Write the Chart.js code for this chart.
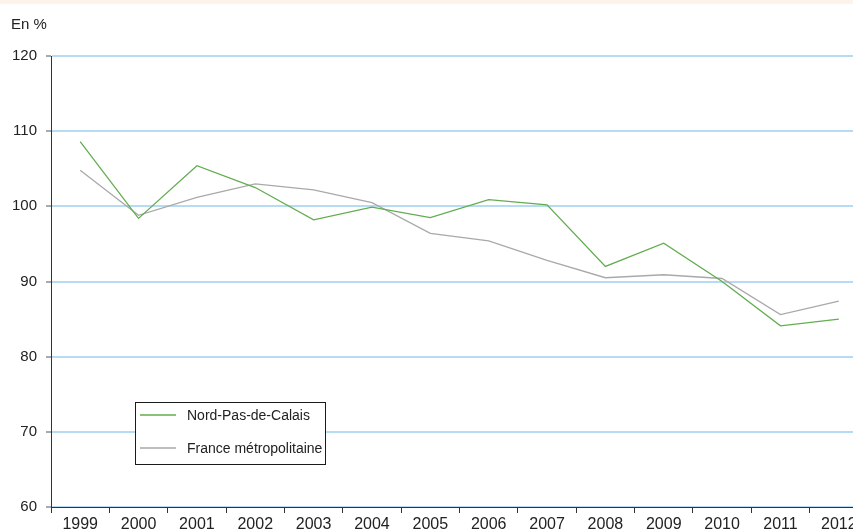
<!DOCTYPE html>
<html lang="fr">
<head>
<meta charset="utf-8">
<title>Évolution en % – Nord-Pas-de-Calais et France métropolitaine</title>
<script src="https://cdn.jsdelivr.net/npm/chart.js@4/dist/chart.umd.min.js"></script>
<style>
  html, body { margin: 0; padding: 0; background: #ffffff; overflow: hidden; width: 853px; height: 531px; }
  #band { position: absolute; left: 0; top: 0; width: 853px; height: 4px; background: #fdf3ea; }
  #wrap { position: absolute; left: 0; top: 0; width: 868px; height: 531px; }
</style>
</head>
<body>
<div id="wrap"><canvas id="chart" width="868" height="531"></canvas></div>
<div id="band"></div>
<script>
// Années
const years = ['1999','2000','2001','2002','2003','2004','2005','2006','2007','2008','2009','2010','2011','2012'];
// Nord-Pas-de-Calais (en %)
const nordPasDeCalais = [108.6, 98.4, 105.4, 102.5, 98.2, 99.9, 98.5, 100.9, 100.2, 92.0, 95.1, 90.0, 84.1, 85.0];
// France métropolitaine (en %)
const franceMetro = [104.8, 98.8, 101.2, 103.0, 102.2, 100.5, 96.4, 95.4, 92.8, 90.5, 90.9, 90.4, 85.6, 87.4];
// Graduations de l'axe vertical
const yTicks = [60, 70, 80, 90, 100, 110, 120];

const seriesLabels = ['Nord-Pas-de-Calais', 'France métropolitaine'];
const seriesColors = ['#62ad4f', '#a9a9a9'];

const FONT = '"Liberation Sans", Arial, Helvetica, sans-serif';

// Légende encadrée, placée dans la zone du graphique
const boxedLegend = {
  id: 'boxedLegend',
  afterDraw(chart) {
    const ctx = chart.ctx;
    const x0 = 135.5, y0 = 402.5, w = 190, h = 62;
    ctx.save();
    ctx.fillStyle = '#ffffff';
    ctx.fillRect(x0, y0, w, h);
    ctx.strokeStyle = '#1a1a1a';
    ctx.lineWidth = 1;
    ctx.strokeRect(x0, y0, w, h);
    ctx.font = '14px ' + FONT;
    ctx.textBaseline = 'middle';
    ctx.textAlign = 'left';
    chart.data.datasets.forEach((ds, i) => {
      const y = 415 + i * 33;
      ctx.strokeStyle = ds.borderColor;
      ctx.lineWidth = 1.3;
      ctx.beginPath();
      ctx.moveTo(140, y);
      ctx.lineTo(176, y);
      ctx.stroke();
      ctx.fillStyle = '#222222';
      ctx.fillText(ds.label, 187, y + 1);
    });
    ctx.restore();
  }
};

// Unité affichée au-dessus de l'axe vertical
const unitLabel = {
  id: 'unitLabel',
  afterDraw(chart) {
    const ctx = chart.ctx;
    ctx.save();
    ctx.font = '15px ' + FONT;
    ctx.fillStyle = '#222222';
    ctx.textBaseline = 'middle';
    ctx.textAlign = 'left';
    ctx.fillText('En %', 11, 25);
    ctx.restore();
  }
};

new Chart(document.getElementById('chart'), {
  type: 'line',
  data: {
    labels: years,
    datasets: [
      { label: seriesLabels[0], data: nordPasDeCalais, borderColor: seriesColors[0], borderWidth: 1.3, pointRadius: 0, tension: 0, fill: false },
      { label: seriesLabels[1], data: franceMetro, borderColor: seriesColors[1], borderWidth: 1.3, pointRadius: 0, tension: 0, fill: false }
    ]
  },
  options: {
    responsive: false,
    animation: false,
    devicePixelRatio: 1,
    layout: { padding: { top: 56, right: 0, bottom: 0, left: 0 } },
    plugins: {
      legend: { display: false },
      tooltip: { enabled: false },
      title: { display: false }
    },
    scales: {
      x: {
        type: 'category',
        offset: true,
        border: { display: true, color: '#333333', width: 1 },
        grid: { offset: true, drawOnChartArea: false, drawTicks: true, tickLength: 6, color: '#333333', lineWidth: 1 },
        ticks: { color: '#222222', font: { family: FONT, size: 16 }, padding: 2, maxRotation: 0, autoSkip: false },
        afterFit(scale) { scale.height = 24; }
      },
      y: {
        min: 60,
        max: 120,
        afterBuildTicks(scale) { scale.ticks = yTicks.map(v => ({ value: v })); },
        border: { display: true, color: '#333333', width: 1 },
        grid: { color: '#b6dcf3', lineWidth: 2, drawTicks: true, tickLength: 5, tickColor: '#555555', tickWidth: 1 },
        ticks: { color: '#222222', font: { family: FONT, size: 15 }, padding: 9 },
        afterFit(scale) { scale.width = 51; }
      }
    }
  },
  plugins: [boxedLegend, unitLabel]
});
</script>
</body>
</html>
